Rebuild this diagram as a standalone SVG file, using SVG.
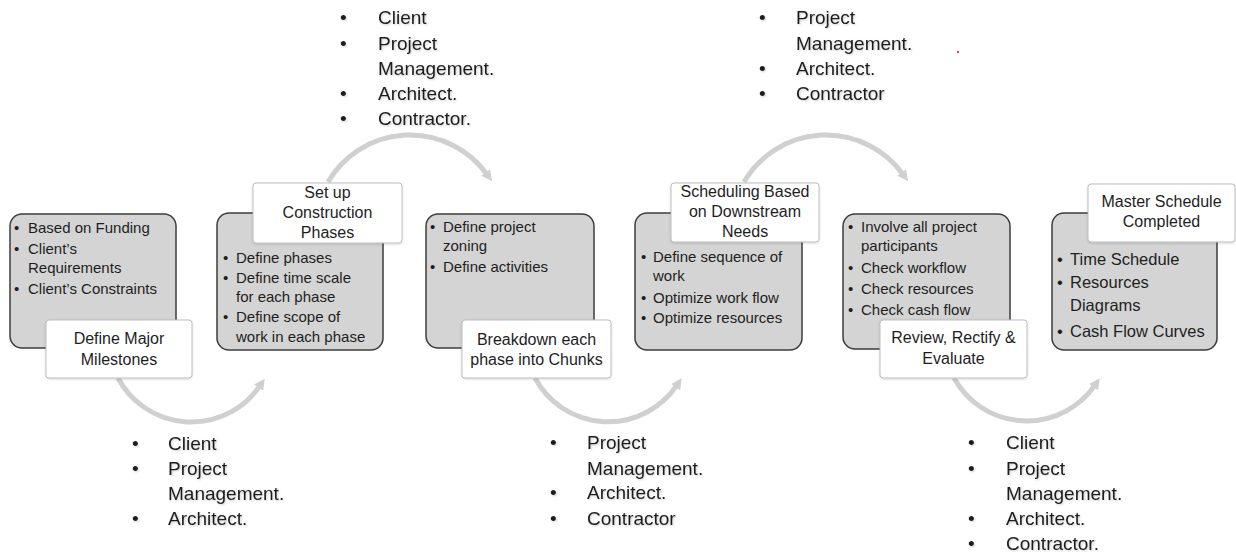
<svg xmlns="http://www.w3.org/2000/svg" width="1236" height="552" viewBox="0 0 1236 552">
<style>
.box{fill:#d4d4d4;stroke:#3c3c3c;stroke-width:1.5}
.lbl{fill:#ffffff;stroke:#bdbdbd;stroke-width:1}
.bt{font-family:"Liberation Sans",Arial,sans-serif;font-size:15px;fill:#1e1e1e}
.bt6{font-family:"Liberation Sans",Arial,sans-serif;font-size:16.5px;fill:#1e1e1e}
.lt{font-family:"Liberation Sans",Arial,sans-serif;font-size:16px;fill:#1e1e1e;text-anchor:middle}
.st{font-family:"Liberation Sans",Arial,sans-serif;font-size:19px;fill:#1e1e1e}
.arc{fill:none;stroke:#d0d0d0;stroke-width:5;marker-end:url(#ah)}
</style>
<defs>
<marker id="ah" viewBox="0 0 10 10" refX="2" refY="5" markerWidth="11" markerHeight="11" markerUnits="userSpaceOnUse" orient="auto">
<path d="M0,0 L10,5 L0,10 z" fill="#d0d0d0"/>
</marker>
<filter id="sh" x="-10%" y="-10%" width="120%" height="130%">
<feDropShadow dx="0" dy="1" stdDeviation="1" flood-color="#000" flood-opacity="0.15"/>
</filter>
<filter id="ts" x="-5%" y="-20%" width="110%" height="140%">
<feDropShadow dx="1" dy="1" stdDeviation="0.8" flood-color="#000" flood-opacity="0.2"/>
</filter>
</defs>

<g id="connectors">
<path class="arc" d="M 118 378 A 83 83 0 0 0 259.8 385.9"/>
<path class="arc" d="M 328 182 A 95 95 0 0 1 486.9 174.2"/>
<path class="arc" d="M 535 378 A 83 83 0 0 0 676.8 385.4"/>
<path class="arc" d="M 744 182 A 95 95 0 0 1 902.9 174.2"/>
<path class="arc" d="M 954 378 A 83 83 0 0 0 1094.8 385.4"/>
</g>

<g id="node1">
<rect class="box" x="10" y="214" width="166" height="134" rx="12"/>
<text class="bt" x="14" y="233">•</text><text class="bt" x="28" y="233">Based on Funding</text>
<text class="bt" x="14" y="254">•</text><text class="bt" x="28" y="254">Client’s</text>
<text class="bt" x="28" y="273">Requirements</text>
<text class="bt" x="14" y="294">•</text><text class="bt" x="28" y="294">Client’s Constraints</text>
<rect class="lbl" filter="url(#sh)" x="46" y="320" width="146" height="58" rx="3"/>
<text class="lt" x="119" y="344">Define Major</text>
<text class="lt" x="119" y="365">Milestones</text>
</g>

<g id="node2">
<rect class="box" x="217" y="213" width="166" height="137" rx="12"/>
<text class="bt" x="223" y="263">•</text><text class="bt" x="236" y="263">Define phases</text>
<text class="bt" x="223" y="283">•</text><text class="bt" x="236" y="283">Define time scale</text>
<text class="bt" x="236" y="302">for each phase</text>
<text class="bt" x="223" y="322">•</text><text class="bt" x="236" y="322">Define scope of</text>
<text class="bt" x="236" y="342">work in each phase</text>
<rect class="lbl" filter="url(#sh)" x="253" y="183" width="149" height="60" rx="3"/>
<text class="lt" x="327.5" y="198">Set up</text>
<text class="lt" x="327.5" y="218">Construction</text>
<text class="lt" x="327.5" y="238">Phases</text>
</g>

<g id="node3">
<rect class="box" x="426" y="214" width="168" height="134" rx="12"/>
<text class="bt" x="430" y="232">•</text><text class="bt" x="443" y="232">Define project</text>
<text class="bt" x="443" y="251">zoning</text>
<text class="bt" x="430" y="272">•</text><text class="bt" x="443" y="272">Define activities</text>
<rect class="lbl" filter="url(#sh)" x="462" y="320" width="149" height="58" rx="3"/>
<text class="lt" x="536.5" y="345">Breakdown each</text>
<text class="lt" x="536.5" y="365">phase into Chunks</text>
</g>

<g id="node4">
<rect class="box" x="635" y="213" width="167" height="137" rx="12"/>
<text class="bt" x="641" y="262">•</text><text class="bt" x="653" y="262">Define sequence of</text>
<text class="bt" x="653" y="281">work</text>
<text class="bt" x="641" y="303">•</text><text class="bt" x="653" y="303">Optimize work flow</text>
<text class="bt" x="641" y="323">•</text><text class="bt" x="653" y="323">Optimize resources</text>
<rect class="lbl" filter="url(#sh)" x="671" y="183" width="148" height="59" rx="3"/>
<text class="lt" x="745" y="197">Scheduling Based</text>
<text class="lt" x="745" y="217">on Downstream</text>
<text class="lt" x="745" y="237">Needs</text>
</g>

<g id="node5">
<rect class="box" x="843" y="214" width="167" height="135" rx="12"/>
<text class="bt" x="848" y="232">•</text><text class="bt" x="861" y="232">Involve all project</text>
<text class="bt" x="861" y="251">participants</text>
<text class="bt" x="848" y="273">•</text><text class="bt" x="861" y="273">Check workflow</text>
<text class="bt" x="848" y="294">•</text><text class="bt" x="861" y="294">Check resources</text>
<text class="bt" x="848" y="315">•</text><text class="bt" x="861" y="315">Check cash flow</text>
<rect class="lbl" filter="url(#sh)" x="880" y="320" width="147" height="58" rx="3"/>
<text class="lt" x="953.5" y="343">Review, Rectify &amp;</text>
<text class="lt" x="953.5" y="364">Evaluate</text>
</g>

<g id="node6">
<rect class="box" x="1052" y="213" width="165" height="137" rx="12"/>
<text class="bt6" x="1057" y="265">•</text><text class="bt6" x="1070" y="265">Time Schedule</text>
<text class="bt6" x="1057" y="288">•</text><text class="bt6" x="1070" y="288">Resources</text>
<text class="bt6" x="1070" y="311">Diagrams</text>
<text class="bt6" x="1057" y="337">•</text><text class="bt6" x="1070" y="337">Cash Flow Curves</text>
<rect class="lbl" filter="url(#sh)" x="1088" y="184" width="147" height="58" rx="3"/>
<text class="lt" x="1161.5" y="207">Master Schedule</text>
<text class="lt" x="1161.5" y="227">Completed</text>
</g>

<g id="stakeholders1" filter="url(#ts)">
<text class="st" x="132" y="450">•</text><text class="st" x="168" y="450">Client</text>
<text class="st" x="132" y="475">•</text><text class="st" x="168" y="475">Project</text>
<text class="st" x="168" y="500">Management.</text>
<text class="st" x="132" y="525">•</text><text class="st" x="168" y="525">Architect.</text>
</g>

<g id="stakeholders2" filter="url(#ts)">
<text class="st" x="340" y="24">•</text><text class="st" x="378" y="24">Client</text>
<text class="st" x="340" y="50">•</text><text class="st" x="378" y="50">Project</text>
<text class="st" x="378" y="75">Management.</text>
<text class="st" x="340" y="100">•</text><text class="st" x="378" y="100">Architect.</text>
<text class="st" x="340" y="125">•</text><text class="st" x="378" y="125">Contractor.</text>
</g>

<g id="stakeholders3" filter="url(#ts)">
<text class="st" x="550" y="449">•</text><text class="st" x="587" y="449">Project</text>
<text class="st" x="587" y="475">Management.</text>
<text class="st" x="550" y="499">•</text><text class="st" x="587" y="499">Architect.</text>
<text class="st" x="550" y="525">•</text><text class="st" x="587" y="525">Contractor</text>
</g>

<g id="stakeholders4" filter="url(#ts)">
<text class="st" x="759" y="24">•</text><text class="st" x="796" y="24">Project</text>
<text class="st" x="796" y="50">Management.</text>
<text class="st" x="759" y="75">•</text><text class="st" x="796" y="75">Architect.</text>
<text class="st" x="759" y="100">•</text><text class="st" x="796" y="100">Contractor</text>
</g>

<g id="stakeholders5" filter="url(#ts)">
<text class="st" x="968" y="449">•</text><text class="st" x="1006" y="449">Client</text>
<text class="st" x="968" y="475">•</text><text class="st" x="1006" y="475">Project</text>
<text class="st" x="1006" y="500">Management.</text>
<text class="st" x="968" y="525">•</text><text class="st" x="1006" y="525">Architect.</text>
<text class="st" x="968" y="550">•</text><text class="st" x="1006" y="550">Contractor.</text>
</g>

<circle cx="958" cy="52" r="1.2" fill="#e04060"/>
</svg>
